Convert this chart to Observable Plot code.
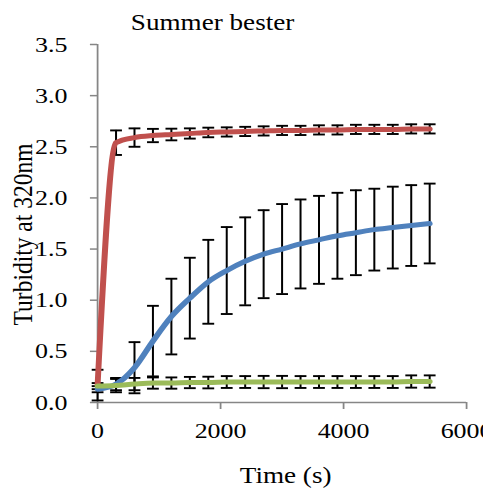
<!DOCTYPE html>
<html>
<head>
<meta charset="utf-8">
<script src="https://cdn.jsdelivr.net/npm/d3@7"></script>
<script src="https://cdn.jsdelivr.net/npm/@observablehq/plot@0.6"></script>
<style>
html, body { margin: 0; padding: 0; background: #fff; }
#chart { width: 483px; height: 500px; overflow: hidden; }
#chart svg { transform: scaleX(1.18); transform-origin: 0 0; }
</style>
</head>
<body>
<div id="chart"></div>
<script>
// ---- data ----
const title = "Summer bester";
const xLabel = "Time (s)";
const yLabel = "Turbidity at 320nm";
const times = [0, 300, 600, 900, 1200, 1500, 1800, 2100, 2400, 2700, 3000, 3300, 3600, 3900, 4200, 4500, 4800, 5100, 5400];
const redValues = [0.17, 2.54, 2.59, 2.61, 2.62, 2.63, 2.64, 2.645, 2.65, 2.655, 2.66, 2.66, 2.665, 2.665, 2.67, 2.67, 2.67, 2.675, 2.675];
const redErr = [0.15, 0.12, 0.09, 0.065, 0.057, 0.05, 0.047, 0.045, 0.045, 0.045, 0.045, 0.045, 0.045, 0.045, 0.045, 0.045, 0.045, 0.045, 0.045];
const blueValues = [0.13, 0.18, 0.34, 0.6, 0.84, 1.02, 1.18, 1.29, 1.38, 1.45, 1.5, 1.55, 1.59, 1.63, 1.66, 1.69, 1.71, 1.73, 1.75];
const blueErr = [0.03, 0.06, 0.25, 0.345, 0.37, 0.395, 0.41, 0.425, 0.43, 0.43, 0.44, 0.435, 0.43, 0.42, 0.415, 0.4, 0.4, 0.395, 0.39];
const greenValues = [0.16, 0.165, 0.18, 0.19, 0.19, 0.195, 0.195, 0.2, 0.2, 0.2, 0.2, 0.2, 0.2, 0.2, 0.2, 0.2, 0.2, 0.205, 0.205];
const greenErr = [0.03, 0.065, 0.06, 0.055, 0.055, 0.055, 0.057, 0.058, 0.058, 0.06, 0.06, 0.058, 0.058, 0.058, 0.058, 0.058, 0.058, 0.06, 0.06];
const xTicks = [0, 2000, 4000, 6000];
const yTicks = [0, 0.5, 1, 1.5, 2, 2.5, 3, 3.5];

const series = [
  { name: "red", color: "#C0504D", values: redValues, err: redErr },
  { name: "blue", color: "#4F81BD", values: blueValues, err: blueErr },
  { name: "green", color: "#9BBB59", values: greenValues, err: greenErr }
];

const rows = series.flatMap(s => s.values.map((v, i) => ({ series: s.name, t: times[i], y: v, e: s.err[i] })));

// ---- layout ----
const STRETCH = 1.18;
const W = 483 / STRETCH;
const gray = "#868686";
const font = "'Liberation Serif', 'Times New Roman', serif";
const cap = { draw(ctx, size) { const w = Math.sqrt(size / Math.PI); ctx.moveTo(-w, 0); ctx.lineTo(w, 0); } };

const plot = Plot.plot({
  width: W,
  height: 500,
  marginLeft: 97 / STRETCH,
  marginRight: 17 / STRETCH,
  marginTop: 44,
  marginBottom: 98,
  style: { fontFamily: font, background: "white", overflow: "visible", color: "black" },
  x: { domain: [0, 6000], label: null },
  y: { domain: [0, 3.5], label: null },
  marks: [
    Plot.ruleX([0], { y1: 0, y2: 3.5, stroke: gray, strokeWidth: 1.5 }),
    Plot.ruleY([0], { stroke: gray, strokeWidth: 1.5 }),
    Plot.axisY({ ticks: yTicks, tickFormat: d3.format(".1f"), tickSize: 6, tickPadding: 19.5, fontSize: 22, stroke: gray, strokeWidth: 1.5, fill: "black", label: null }),
    Plot.axisX({ ticks: xTicks, tickFormat: d3.format("d"), tickSize: 7, tickPadding: 13, fontSize: 22, stroke: gray, strokeWidth: 1.5, fill: "black", label: null }),
    Plot.ruleX(rows, { x: "t", y1: d => d.y - d.e, y2: d => d.y + d.e, stroke: "black", strokeWidth: 1.7 }),
    Plot.dot(rows, { x: "t", y: d => d.y + d.e, symbol: cap, r: 5, stroke: "black", fill: "none", strokeWidth: 1.9 }),
    Plot.dot(rows, { x: "t", y: d => d.y - d.e, symbol: cap, r: 5, stroke: "black", fill: "none", strokeWidth: 1.9 }),
    ...series.map(s => Plot.line(rows.filter(r => r.series === s.name), { x: "t", y: "y", stroke: s.color, strokeWidth: 5, curve: "monotone-x", strokeLinecap: "round", strokeLinejoin: "round" })),
    Plot.text([title], { text: d => d, frameAnchor: "top-left", dx: (212 - 97) / STRETCH, dy: -31, textAnchor: "middle", fontSize: 23, fill: "black" }),
    Plot.text([yLabel], { text: d => d, frameAnchor: "left", dx: (23 - 97) / STRETCH, dy: 11, rotate: -90, textAnchor: "middle", fontSize: 23.5, fill: "black" }),
    Plot.text([xLabel], { text: d => d, frameAnchor: "bottom", dx: 3, dy: 81, textAnchor: "middle", fontSize: 23, fill: "black" })
  ]
});

document.getElementById("chart").appendChild(plot);
</script>
</body>
</html>
